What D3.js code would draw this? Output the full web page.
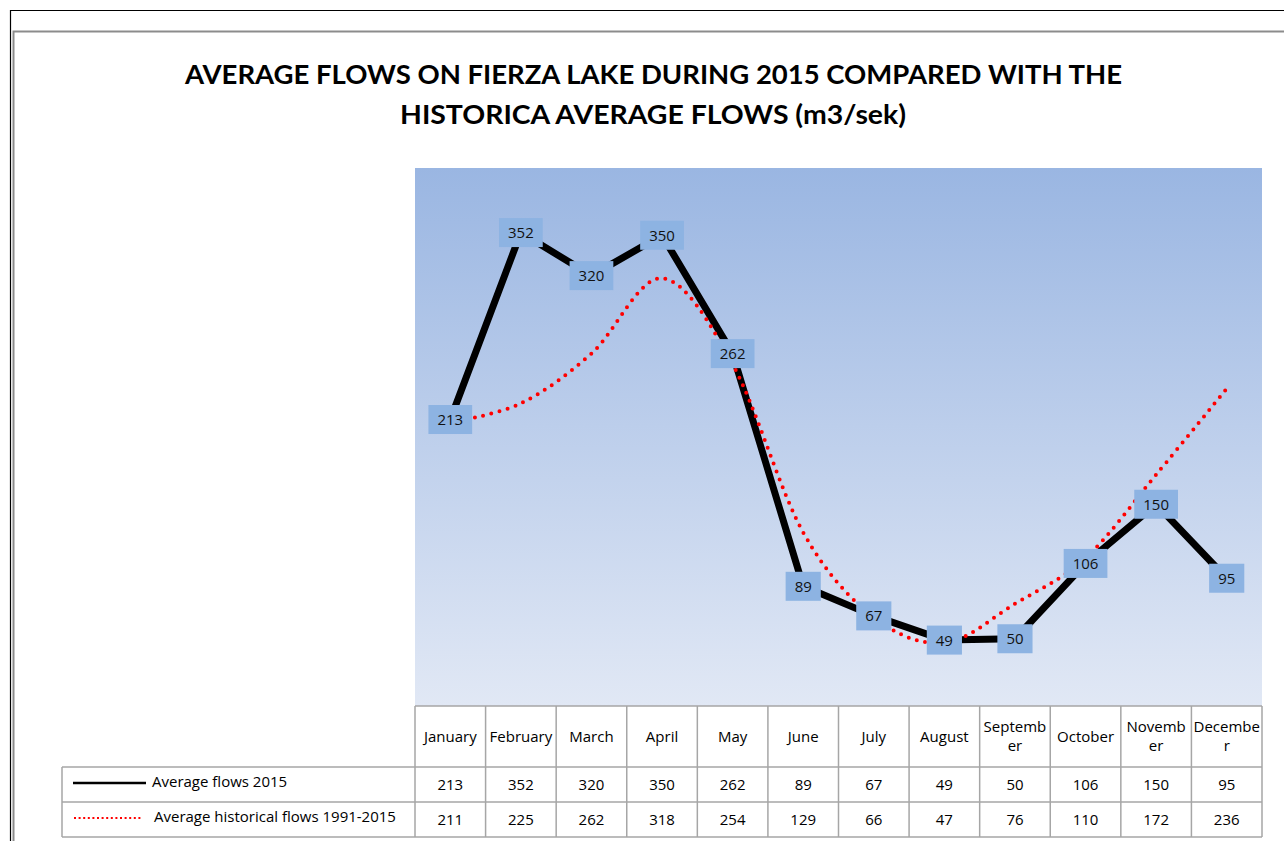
<!DOCTYPE html>
<html>
<head>
<meta charset="utf-8">
<script src="https://cdn.jsdelivr.net/npm/d3@7"></script>
<style>
  html, body { margin: 0; padding: 0; background: #fff; }
  svg { display: block; }
  text { font-family: "Open Sans", Lato, sans-serif; font-weight: 500; }
  text.title { font-family: Lato, "Open Sans", sans-serif; font-weight: bold; }
</style>
</head>
<body>
<div id="chart"></div>
<script>
// data
const months = ["January", "February", "March", "April", "May", "June",
  "July", "August", "September", "October", "November", "December"];
const flows2015 = [213, 352, 320, 350, 262, 89, 67, 49, 50, 106, 150, 95];
const flowsHist = [211, 225, 262, 318, 254, 129, 66, 47, 76, 110, 172, 236];
const seriesNames = ["Average flows 2015", "Average historical flows 1991-2015"];
const titleLines = ["AVERAGE FLOWS ON FIERZA LAKE DURING 2015 COMPARED WITH THE",
  "HISTORICA AVERAGE FLOWS (m3/sek)"];

const width = 1284, height = 841;
const plot = { left: 415, right: 1262, top: 168, bottom: 706 };
const rowH = [61, 35, 35]; // header, 2015, historical
const legendLeft = 62;
const fs = 15;

const svg = d3.select('#chart').append('svg')
  .attr('width', width)
  .attr('height', height);

// frame
svg.append('path')
  .attr('d', `M10.5,${height} V10.5 H${width}`)
  .attr('fill', 'none').attr('stroke', '#000').attr('stroke-width', 1.2);
svg.append('path')
  .attr('d', `M13.5,${height} V31.5 H${width}`)
  .attr('fill', 'none').attr('stroke', '#8c8c8c').attr('stroke-width', 2);

// title
svg.selectAll('.title')
  .data(titleLines)
  .enter().append('text')
  .attr('class', 'title')
  .attr('x', (d, i) => i === 0 ? 185 : 400)
  .attr('y', (d, i) => 84 + i * 40)
  .attr('textLength', (d, i) => i === 0 ? 937 : 506)
  .attr('lengthAdjust', 'spacingAndGlyphs')
  .attr('font-size', 27)
  .attr('fill', '#000')
  .text(d => d);

// scales
const x = d3.scaleBand().domain(months).range([plot.left, plot.right]);
const y = d3.scaleLinear().domain([0, 400]).range([plot.bottom, plot.top]);
const cx = d => x(d) + x.bandwidth() / 2;

// plot background gradient
const grad = svg.append('defs').append('linearGradient')
  .attr('id', 'bg').attr('x1', 0).attr('y1', 0).attr('x2', 0).attr('y2', 1);
grad.append('stop').attr('offset', '0%').attr('stop-color', '#9ab6e2');
grad.append('stop').attr('offset', '100%').attr('stop-color', '#e1e8f5');

svg.append('rect')
  .attr('x', plot.left).attr('y', plot.top)
  .attr('width', plot.right - plot.left).attr('height', plot.bottom - plot.top)
  .attr('fill', 'url(#bg)');

// 2015 line
const line = d3.line()
  .x((d, i) => cx(months[i]))
  .y(d => y(d));

svg.append('path')
  .datum(flows2015)
  .attr('d', line)
  .attr('fill', 'none')
  .attr('stroke', '#000')
  .attr('stroke-width', 7)
  .attr('stroke-linejoin', 'round');

// historical smoothed dotted line
const smooth = d3.line()
  .x((d, i) => cx(months[i]))
  .y(d => y(d))
  .curve(d3.curveCardinal.tension(0));

svg.append('path')
  .datum(flowsHist)
  .attr('d', smooth)
  .attr('fill', 'none')
  .attr('stroke', '#ff0000')
  .attr('stroke-width', 4)
  .attr('stroke-linecap', 'round')
  .attr('stroke-dasharray', '0 8.4');

// data labels
const labels = svg.append('g').selectAll('g')
  .data(flows2015)
  .enter().append('g')
  .attr('transform', (d, i) => `translate(${cx(months[i])},${y(d)})`);

labels.append('text')
  .attr('text-anchor', 'middle')
  .attr('dy', '0.36em')
  .attr('font-size', fs)
  .attr('fill', '#111')
  .text(d => d);

labels.each(function () {
  const g = d3.select(this);
  const w = g.select('text').node().getComputedTextLength() + 18;
  g.insert('rect', 'text')
    .attr('x', -w / 2).attr('y', -14.5)
    .attr('width', w).attr('height', 29)
    .attr('fill', '#8db3e2');
});

// data table
const tbl = svg.append('g').attr('class', 'table');
const rowY = [plot.bottom, plot.bottom + rowH[0], plot.bottom + rowH[0] + rowH[1]];
const tableBottom = rowY[2] + rowH[2];
const gridColor = '#a6a6a6';

// horizontal rules
tbl.append('line')
  .attr('x1', plot.left).attr('x2', plot.right)
  .attr('y1', rowY[0]).attr('y2', rowY[0]);
[rowY[1], rowY[2], tableBottom].forEach(yy => {
  tbl.append('line')
    .attr('x1', legendLeft).attr('x2', plot.right)
    .attr('y1', yy).attr('y2', yy);
});
// vertical rules
tbl.append('line')
  .attr('x1', legendLeft).attr('x2', legendLeft)
  .attr('y1', rowY[1]).attr('y2', tableBottom);
months.concat([null]).forEach((m, i) => {
  const xx = m ? x(m) : plot.right;
  tbl.append('line')
    .attr('x1', xx).attr('x2', xx)
    .attr('y1', rowY[0]).attr('y2', tableBottom);
});
tbl.selectAll('line')
  .attr('stroke', gridColor)
  .attr('stroke-width', 1.5);

// header row: month names, wrapped by character like Excel does
const maxW = x.bandwidth() - 3.5;
months.forEach(m => {
  const t = tbl.append('text')
    .attr('text-anchor', 'middle')
    .attr('font-size', fs)
    .attr('fill', '#000');
  t.text(m);
  let parts = [m];
  if (t.node().getComputedTextLength() > maxW) {
    let k = m.length - 1;
    while (k > 1) {
      t.text(m.slice(0, k));
      if (t.node().getComputedTextLength() <= maxW) break;
      k--;
    }
    parts = [m.slice(0, k), m.slice(k)];
  }
  t.text(null);
  const mid = rowY[0] + rowH[0] / 2;
  parts.forEach((p, j) => {
    t.append('tspan')
      .attr('x', cx(m))
      .attr('y', mid + 5 + (j - (parts.length - 1) / 2) * 19)
      .text(p);
  });
});

// value rows
[flows2015, flowsHist].forEach((vals, r) => {
  const mid = rowY[r + 1] + rowH[r + 1] / 2;
  vals.forEach((v, i) => {
    tbl.append('text')
      .attr('x', cx(months[i]))
      .attr('y', mid + 5)
      .attr('text-anchor', 'middle')
      .attr('font-size', fs)
      .attr('fill', '#000')
      .text(v);
  });
});

// legend keys inside the table
tbl.append('line')
  .attr('x1', 73).attr('x2', 146)
  .attr('y1', rowY[1] + 16).attr('y2', rowY[1] + 16)
  .attr('stroke', '#000').attr('stroke-width', 2.5);
tbl.append('line')
  .attr('x1', 74).attr('x2', 143)
  .attr('y1', rowY[2] + 16).attr('y2', rowY[2] + 16)
  .attr('stroke', '#ff0000').attr('stroke-width', 2)
  .attr('stroke-dasharray', '2 2.6');

seriesNames.forEach((s, i) => {
  tbl.append('text')
    .attr('x', i === 0 ? 152 : 154)
    .attr('y', rowY[i + 1] + 20)
    .attr('font-size', fs)
    .attr('fill', '#000')
    .text(s);
});
</script>
</body>
</html>
